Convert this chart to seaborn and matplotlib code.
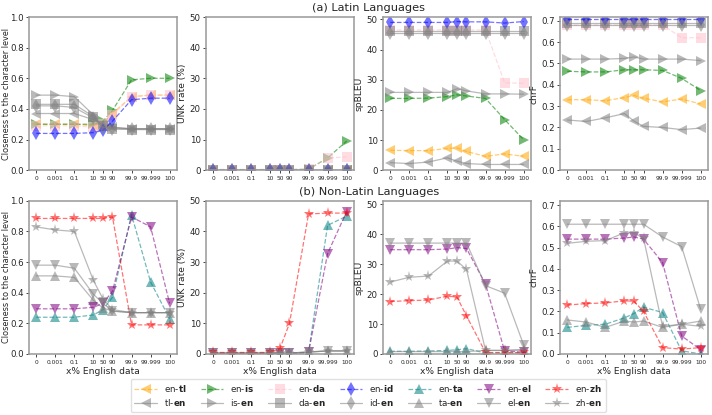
import matplotlib
matplotlib.use("Agg")
import matplotlib.pyplot as plt
import seaborn as sns

# ---------------- data ----------------
x_labels = ["0", "0.001", "0.1", "10", "50", "90", "99.9", "99.999", "100"]

# (a) Latin languages -- closeness to the character level
cl_en_tl = [0.30, 0.30, 0.30, 0.29, 0.31, 0.37, 0.48, 0.49, 0.49]
cl_tl_en = [0.37, 0.37, 0.37, 0.33, 0.31, 0.28, 0.27, 0.27, 0.27]
cl_en_is = [0.30, 0.30, 0.30, 0.30, 0.32, 0.39, 0.59, 0.60, 0.60]
cl_is_en = [0.49, 0.49, 0.48, 0.36, 0.30, 0.28, 0.27, 0.27, 0.27]
cl_en_da = [0.29, 0.29, 0.29, 0.28, 0.30, 0.36, 0.48, 0.49, 0.49]
cl_da_en = [0.43, 0.43, 0.43, 0.35, 0.29, 0.27, 0.265, 0.265, 0.265]
cl_en_id = [0.24, 0.24, 0.24, 0.245, 0.26, 0.32, 0.46, 0.47, 0.47]
cl_id_en = [0.42, 0.42, 0.41, 0.34, 0.28, 0.27, 0.27, 0.27, 0.27]

# (a) UNK rate (%)
unk_en_tl = [0.2, 0.2, 0.2, 0.2, 0.2, 0.2, 0.2, 0.2, 0.2]
unk_tl_en = [0.2, 0.2, 0.2, 0.2, 0.2, 0.2, 0.2, 0.2, 0.2]
unk_en_is = [0.2, 0.2, 0.2, 0.2, 0.2, 0.2, 0.3, 4.0, 9.5]
unk_is_en = [0.2, 0.2, 0.2, 0.2, 0.2, 0.2, 0.2, 0.2, 0.2]
unk_en_da = [0.2, 0.2, 0.2, 0.2, 0.2, 0.2, 0.3, 4.0, 4.3]
unk_da_en = [0.2, 0.2, 0.2, 0.2, 0.2, 0.2, 0.2, 0.2, 0.2]
unk_en_id = [0.2, 0.2, 0.2, 0.2, 0.2, 0.2, 0.2, 0.2, 0.2]
unk_id_en = [0.2, 0.2, 0.2, 0.2, 0.2, 0.2, 0.2, 0.2, 0.2]

# (a) spBLEU
bl_en_tl = [6.6, 6.5, 6.5, 7.2, 7.4, 6.2, 4.6, 5.4, 4.6]
bl_tl_en = [2.5, 2.2, 2.7, 4.1, 3.0, 2.2, 1.9, 1.9, 1.9]
bl_en_is = [23.8, 23.8, 23.9, 24.4, 25.0, 24.6, 23.8, 16.8, 10.1]
bl_is_en = [25.8, 25.8, 25.8, 25.8, 27.0, 26.3, 25.3, 25.3, 25.2]
bl_en_da = [46.5, 46.5, 46.5, 46.5, 46.5, 46.5, 46.5, 29.0, 28.8]
bl_da_en = [46.0, 46.0, 46.0, 46.0, 46.0, 46.0, 46.0, 46.0, 46.0]
bl_en_id = [49.0, 49.0, 49.0, 49.0, 49.3, 49.2, 49.2, 48.8, 49.3]
bl_id_en = [45.6, 45.6, 45.6, 45.6, 45.6, 45.6, 45.6, 45.6, 45.6]

# (a) chrF
cf_en_tl = [0.33, 0.33, 0.325, 0.34, 0.35, 0.337, 0.32, 0.333, 0.31]
cf_tl_en = [0.235, 0.228, 0.245, 0.265, 0.23, 0.205, 0.20, 0.19, 0.197]
cf_en_is = [0.463, 0.46, 0.46, 0.47, 0.47, 0.47, 0.467, 0.43, 0.373]
cf_is_en = [0.52, 0.52, 0.52, 0.523, 0.53, 0.52, 0.52, 0.52, 0.513]
cf_en_da = [0.68, 0.68, 0.68, 0.68, 0.68, 0.68, 0.68, 0.62, 0.62]
cf_da_en = [0.69, 0.69, 0.69, 0.69, 0.69, 0.69, 0.69, 0.69, 0.69]
cf_en_id = [0.71, 0.71, 0.71, 0.71, 0.71, 0.71, 0.71, 0.71, 0.71]
cf_id_en = [0.68, 0.68, 0.68, 0.68, 0.68, 0.68, 0.68, 0.68, 0.68]

# (b) Non-Latin languages -- closeness
cl_en_ta = [0.24, 0.24, 0.24, 0.255, 0.29, 0.37, 0.91, 0.47, 0.23]
cl_ta_en = [0.51, 0.51, 0.50, 0.35, 0.30, 0.28, 0.27, 0.27, 0.27]
cl_en_el = [0.295, 0.295, 0.295, 0.305, 0.33, 0.41, 0.895, 0.83, 0.33]
cl_el_en = [0.58, 0.58, 0.56, 0.39, 0.33, 0.28, 0.27, 0.27, 0.27]
cl_en_zh = [0.885, 0.885, 0.885, 0.885, 0.885, 0.895, 0.19, 0.19, 0.19]
cl_zh_en = [0.83, 0.81, 0.80, 0.48, 0.36, 0.29, 0.27, 0.27, 0.27]

# (b) UNK rate (%)
unk_en_ta = [0.3, 0.3, 0.3, 0.3, 0.3, 0.3, 0.5, 42.0, 45.0]
unk_ta_en = [0.3, 0.3, 0.3, 0.3, 0.3, 0.3, 0.6, 1.0, 1.0]
unk_en_el = [0.2, 0.2, 0.2, 0.2, 0.2, 0.2, 0.5, 32.8, 46.5]
unk_el_en = [0.3, 0.3, 0.3, 0.3, 0.3, 0.3, 0.6, 1.0, 1.0]
unk_en_zh = [0.5, 0.5, 0.5, 0.5, 1.8, 10.0, 45.7, 46.0, 46.0]
unk_zh_en = [0.3, 0.3, 0.3, 0.3, 0.3, 0.3, 0.7, 1.0, 1.0]

# (b) spBLEU
bl_en_ta = [0.9, 0.9, 1.0, 1.2, 1.4, 1.8, 0.3, 0.3, 0.3]
bl_ta_en = [0.8, 0.8, 0.8, 0.8, 0.8, 0.8, 1.2, 1.2, 1.3]
bl_en_el = [34.8, 34.8, 34.8, 35.0, 35.5, 35.2, 23.3, 1.0, 0.6]
bl_el_en = [37.0, 37.0, 37.0, 37.0, 37.0, 37.0, 22.8, 20.3, 3.0]
bl_en_zh = [17.5, 17.8, 18.0, 19.3, 19.0, 12.7, 0.5, 0.5, 0.5]
bl_zh_en = [24.0, 25.6, 26.0, 31.0, 31.0, 28.2, 1.2, 1.2, 1.5]

# (b) chrF
cf_en_ta = [0.125, 0.135, 0.14, 0.17, 0.19, 0.22, 0.195, 0.015, 0.0]
cf_ta_en = [0.16, 0.15, 0.125, 0.155, 0.15, 0.155, 0.125, 0.14, 0.155]
cf_en_el = [0.54, 0.54, 0.54, 0.545, 0.55, 0.54, 0.43, 0.085, 0.02]
cf_el_en = [0.61, 0.61, 0.61, 0.61, 0.61, 0.61, 0.55, 0.505, 0.21]
cf_en_zh = [0.23, 0.237, 0.24, 0.25, 0.248, 0.20, 0.03, 0.023, 0.03]
cf_zh_en = [0.52, 0.53, 0.533, 0.57, 0.57, 0.545, 0.13, 0.14, 0.13]

# ---------------- layout / styling ----------------
# horizontal placement of the x categories on the axis
x_pos = [0, 1, 2, 3, 3.5, 4, 5, 6, 7]

STYLE = {
    "en-tl": ("orange", "<", "--"), "tl-en": ("gray", "<", "-"),
    "en-is": ("green", ">", "--"), "is-en": ("gray", ">", "-"),
    "en-da": ("pink", "s", "--"), "da-en": ("gray", "s", "-"),
    "en-id": ("blue", "d", "--"), "id-en": ("gray", "d", "-"),
    "en-ta": ("teal", "^", "--"), "ta-en": ("gray", "^", "-"),
    "en-el": ("purple", "v", "--"), "el-en": ("gray", "v", "-"),
    "en-zh": ("red", "*", "--"), "zh-en": ("gray", "*", "-"),
}


def nice_label(name):
    a, b = name.split("-")
    if a == "en":
        return "en-$\\mathbf{" + b + "}$"
    return a + "-$\\mathbf{en}$"


sns.set_theme(style="ticks")
plt.rcParams.update({
    "font.family": ["DejaVu Sans"],
    "axes.edgecolor": "0.6",
    "axes.linewidth": 1.1,
    "xtick.major.size": 2,
    "ytick.major.size": 2,
    "xtick.major.width": 0.6,
    "ytick.major.width": 0.6,
    "xtick.labelsize": 4.2,
    "ytick.labelsize": 6.2,
    "axes.labelsize": 6.6,
})

fig, axes = plt.subplots(2, 4, figsize=(7.12, 4.15), dpi=100)
fig.subplots_adjust(left=0.041, right=0.994, top=0.959, bottom=0.147,
                    wspace=0.2, hspace=0.2)

latin = ["tl", "is", "da", "id"]
nonlatin = ["ta", "el", "zh"]
metrics = ["cl", "unk", "bl", "cf"]
ylabels = ["Closeness to the character level", "UNK rate (%)", "spBLEU", "chrF"]
ylims = {
    0: [(0, 1.0), (0, 50), (0, 50.8), (0, 0.717)],
    1: [(0, 1.0), (0, 50), (0, 51.1), (0, 0.72)],
}
yticks = [[0, 0.2, 0.4, 0.6, 0.8, 1.0], [0, 10, 20, 30, 40, 50],
          [0, 10, 20, 30, 40, 50], [0, 0.1, 0.2, 0.3, 0.4, 0.5, 0.6, 0.7]]
g = globals()

for r, langs in enumerate([latin, nonlatin]):
    for c, m in enumerate(metrics):
        ax = axes[r, c]
        for lg in langs:
            for name in (f"en-{lg}", f"{lg}-en"):
                col, mk, ls = STYLE[name]
                vals = g[f"{m}_{name.replace('-', '_')}"]
                sns.lineplot(x=x_pos, y=vals, ax=ax, color=col, marker=mk,
                             linestyle=ls, linewidth=0.9, alpha=0.55,
                             markersize=8 if mk == "*" else 7,
                             markeredgewidth=0, label=nice_label(name),
                             legend=False)
        ax.set_xlim(-0.37, 7.37)
        ax.set_ylim(*ylims[r][c])
        ax.set_yticks(yticks[c])
        if c in (0, 3):
            ax.yaxis.set_major_formatter(matplotlib.ticker.FormatStrFormatter("%.1f"))
        ax.set_xticks(x_pos)
        ax.set_xticklabels(x_labels)
        ax.set_ylabel(ylabels[c], labelpad=2,
                      fontsize=5.9 if c == 0 else 6.6)
        if c == 0:
            ax.yaxis.set_label_coords(-0.125, 0.5)
        ax.tick_params(axis="both", pad=2, colors="0.15")
        for s in ax.spines.values():
            s.set_visible(True)
        ax.set_xlabel("x% English data" if r == 1 else "", labelpad=2)

fig.text(0.518, 0.981, "(a) Latin Languages", ha="center", va="center", fontsize=8.2)
fig.text(0.518, 0.538, "(b) Non-Latin Languages", ha="center", va="center", fontsize=8.2)

handles, labels = [], []
for ax in (axes[0, 0], axes[1, 0]):
    h, l = ax.get_legend_handles_labels()
    handles += h
    labels += l
fig.legend(handles, labels, loc="center", bbox_to_anchor=(0.517, 0.047),
           ncol=7, fontsize=6.3, frameon=True, handlelength=2.6,
           columnspacing=1.6, labelspacing=0.35, borderpad=0.4,
           edgecolor="0.85")

fig.savefig("out.png", dpi=100)
